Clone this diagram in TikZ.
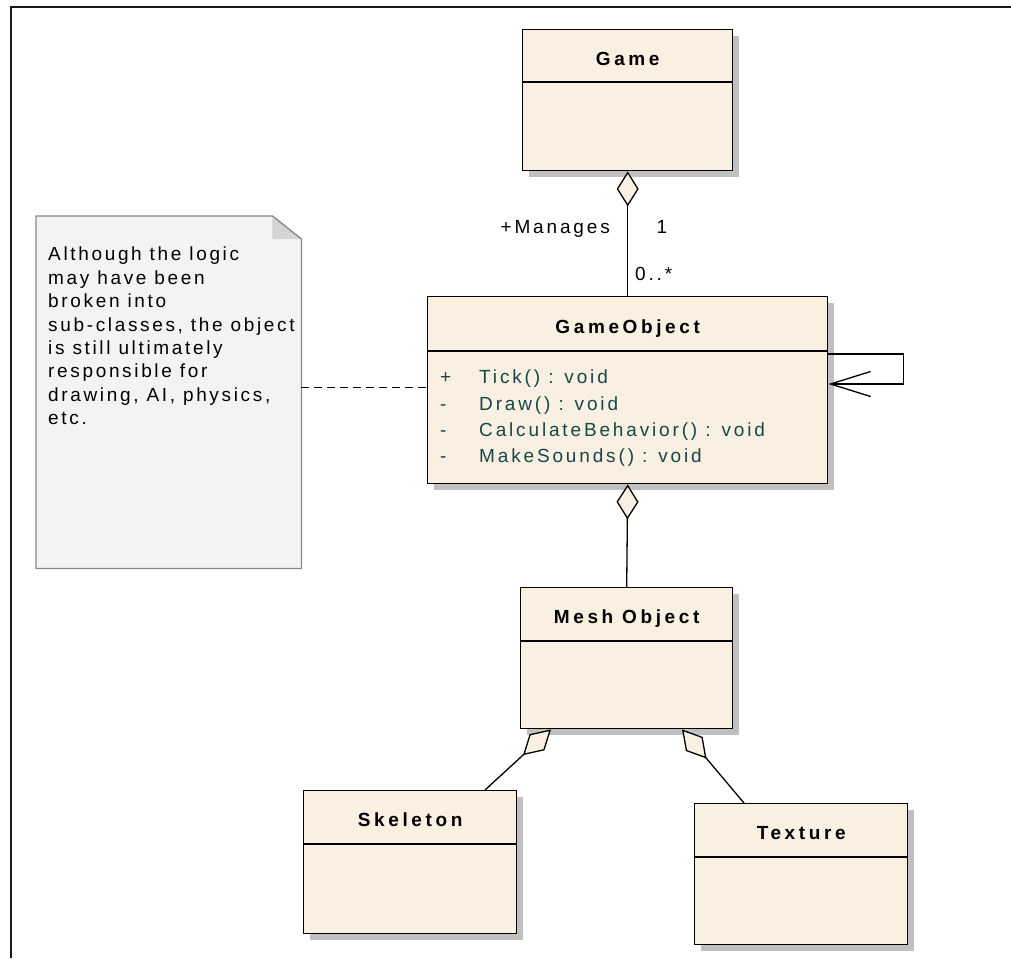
\documentclass[tikz,border=0pt]{standalone}
\usepackage{fontspec}
\setmainfont{Liberation Sans}
\newfontfamily\umlfont{Liberation Sans}[LetterSpace=15]
\newfontfamily\umlnotefont{Liberation Sans}[LetterSpace=14]
\newfontfamily\umlheadfont{Liberation Sans}[LetterSpace=19]
\usetikzlibrary{arrows.meta,shadows,calc}

\definecolor{classfill}{RGB}{250,240,225}
\definecolor{classshadow}{RGB}{192,192,192}
\definecolor{notefill}{RGB}{245,242,245}
\definecolor{noteline}{RGB}{136,136,136}
\definecolor{notefold}{RGB}{212,212,212}
\definecolor{opcolor}{RGB}{18,72,72}

% a class box: name, x, y, width, height, header height, title
\newcommand{\umlclass}[7]{%
  \node[classbox, minimum width=#4pt, minimum height=#5pt] (#1) at (#2,#3) {};
  \draw[classline] ($(#1.north west)+(0,#6)$) -- ($(#1.north east)+(0,#6)$);
  \node[classtitle] (#1-title) at ($(#1.north)+(0,#6/2+9.5)$) {#7};
}

\begin{document}
\begin{tikzpicture}[x=1pt,y=-1pt,
  classline/.style={line width=1.4pt, draw=black},
  classbox/.style={classline, fill=classfill, anchor=north west, inner sep=0pt,
    drop shadow={shadow xshift=6pt, shadow yshift=-6pt, fill=classshadow, opacity=1}},
  classtitle/.style={anchor=base, inner sep=0pt,
    font=\umlheadfont\bfseries\fontsize{19}{22}\selectfont},
  labeltext/.style={inner sep=0pt, font=\umlfont\fontsize{19}{22}\selectfont},
  optext/.style={inner sep=0pt, anchor=north west, align=left, text=opcolor,
    font=\umlfont\fontsize{19}{26.3}\selectfont},
  notetext/.style={inner sep=0pt, anchor=north west, align=left,
    font=\umlnotefont\fontsize{19}{23.4}\selectfont},
  aggr/.style={line width=1.3pt,
    -{Diamond[length=35pt, width=22pt, fill=classfill, line width=1.3pt]}},
  aggrlong/.style={line width=1.3pt,
    -{Diamond[length=38pt, width=22pt, fill=classfill, line width=1.3pt]}},
  selfassoc/.style={line width=1.3pt,
    -{Straight Barb[length=40pt, width=25pt, line width=1.3pt]}},
  notelink/.style={line width=1pt, dash pattern=on 8pt off 5pt}
]
\useasboundingbox (0,0) rectangle (1011,958);
\fill[white] (0,0) rectangle (1011,958);

% diagram frame
\draw[line width=2pt, black!90] (11,958) -- (11,7) -- (1011,7);

% classes
\umlclass{game}{522}{29}{210}{141}{53}{Game}
\umlclass{gameobj}{427}{296}{400}{187}{55}{GameObject}
\umlclass{mesh}{520}{587}{212}{141}{54}{Mesh Object}
\umlclass{skel}{303}{790}{213}{143}{54}{Skeleton}
\umlclass{tex}{694}{803}{213}{141}{54}{Texture}

% operations of GameObject
\node[optext] (gameobj-ops) at (440,370) {%
  \makebox[39pt][l]{+}Tick() : void\\
  \makebox[39pt][l]{-}Draw() : void\\
  \makebox[39pt][l]{-}CalculateBehavior() : void\\
  \makebox[39pt][l]{-}MakeSounds() : void};

% note with folded corner
\node[inner sep=0pt, minimum width=265pt, minimum height=352pt, anchor=north west] (note) at (36,216) {};
\filldraw[fill=notefill, draw=noteline, line width=1.2pt]
  (note.north west) -- ($(note.north east)+(-29,0)$) -- ($(note.north east)+(0,23)$)
  -- (note.south east) -- (note.south west) -- cycle;
\fill[notefold] ($(note.north east)+(-29,0)$) -- ($(note.north east)+(0,23)$) -- ($(note.north east)+(-29,23)$) -- cycle;
\draw[draw=noteline, line width=1.2pt] ($(note.north east)+(-29,0)$) -- ($(note.north east)+(0,23)$);
\node[notetext] (note-text) at (48,247) {Although the logic\\may have been\\broken into\\sub-classes, the object\\is still ultimately\\responsible for\\drawing, AI, physics,\\etc.};

% note attachment
\coordinate (note-end) at ($(note.north east)+(0,171)$);
\coordinate (gameobj-noteend) at ($(gameobj.north west)+(0,91)$);
\draw[notelink] (note-end) -- (gameobj-noteend);

% Game manages GameObjects
\draw[aggr] (gameobj.north) -- (game.south);
\node[labeltext, anchor=base east] (lbl-manages) at (610,233) {+Manages};
\node[labeltext, anchor=base] (lbl-one) at (662,233) {1};
\node[labeltext, anchor=base west] (lbl-many) at (635,280) {0..*};

% GameObject self association
\coordinate (loop-start) at ($(gameobj.north east)+(0,58)$);
\coordinate (loop-end) at ($(gameobj.north east)+(0,88)$);
\draw[selfassoc] (loop-start) -- ++(75,0) |- (loop-end);

% GameObject aggregates a mesh
\draw[aggr] (mesh.north) -- (gameobj.south);

% mesh parts
\coordinate (mesh-left) at ($(mesh.south west)+(31,0)$);
\coordinate (mesh-right) at ($(mesh.south west)+(162,0)$);
\coordinate (skel-top) at ($(skel.north west)+(182,0)$);
\coordinate (tex-top) at ($(tex.north west)+(50,0)$);
\draw[aggrlong] (skel-top) -- (mesh-left);
\draw[aggrlong] (tex-top) -- (mesh-right);
\end{tikzpicture}
\end{document}
